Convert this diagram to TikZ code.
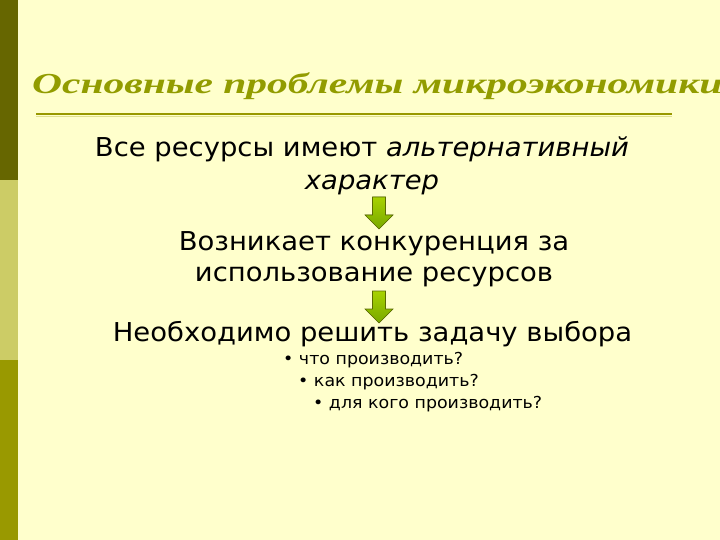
\documentclass[tikz,border=0pt]{standalone}
\usepackage{fontspec}
\setmainfont{Liberation Serif}
\setsansfont{DejaVu Sans}[FakeStretch=1.055]
\newfontfamily\headfont{Liberation Serif}[FakeStretch=1.43]
\usepackage{xcolor}
\usetikzlibrary{positioning}

\definecolor{pagebg}{HTML}{FFFFCC}
\definecolor{bardark}{HTML}{666600}
\definecolor{barlight}{HTML}{CCCC66}
\definecolor{barmid}{HTML}{999900}
\definecolor{titleolive}{HTML}{929C00}
\definecolor{arrowtop}{HTML}{A8D200}
\definecolor{arrowbot}{HTML}{78A800}
\definecolor{arrowedge}{HTML}{5A6A00}

\begin{document}
\begin{tikzpicture}[
            x=1pt, y=-1pt,
            title/.style={font=\headfont\fontsize{29}{34}\selectfont\bfseries\itshape, text=titleolive, inner sep=0pt, anchor=base west},
            body/.style={font=\sffamily\fontsize{26}{30}\selectfont, inner sep=0pt, anchor=base},
            item/.style={font=\sffamily\fontsize{16.5}{19}\selectfont, inner sep=0pt, anchor=base west},
            blockdown/.pic={
                \filldraw[draw=arrowedge, line width=0.6pt, top color=arrowtop, bottom color=arrowbot]
                    (-6.5,0) -- (6.5,0) -- (6.5,18) -- (14,18) -- (0,32) -- (-14,18) -- (-6.5,18) -- cycle;
            },
        ]
            % page and side bar
            \useasboundingbox (0,0) rectangle (720,540);
            \fill[pagebg] (0,0) rectangle (720,540);
            \fill[bardark] (0,0) rectangle (18,180);
            \fill[barlight] (0,180) rectangle (18,360);
            \fill[barmid] (0,360) rectangle (18,540);

            % heading
            \node[title] (title) at (32,94) {Основные проблемы микроэкономики};
            \draw[barmid, line width=2pt] (36,114) -- (672,114);
            \draw[barlight!60!pagebg, line width=1pt] (36,116.5) -- (672,116.5);

            % chain of statements
            \node[body] (line1a) at (362,157) {Все ресурсы имеют \textit{альтернативный}};
            \node[body] (line1b) at (372,190) {\textit{характер}};
            \pic (arrA) at (379,197) {blockdown};
            \node[body] (line2a) at (374,250) {Возникает конкуренция за};
            \node[body] (line2b) at (374,281) {использование ресурсов};
            \pic (arrB) at (379,291) {blockdown};
            \node[body] (line3) at (372.5,341) {Необходимо решить задачу выбора};

            % questions
            \node[item] (itemA) at (283,364) {\textbullet\ что производить?};
            \node[item] (itemB) at (298,386) {\textbullet\ как производить?};
            \node[item] (itemC) at (313,408) {\textbullet\ для кого производить?};
        \end{tikzpicture}
\end{document}
